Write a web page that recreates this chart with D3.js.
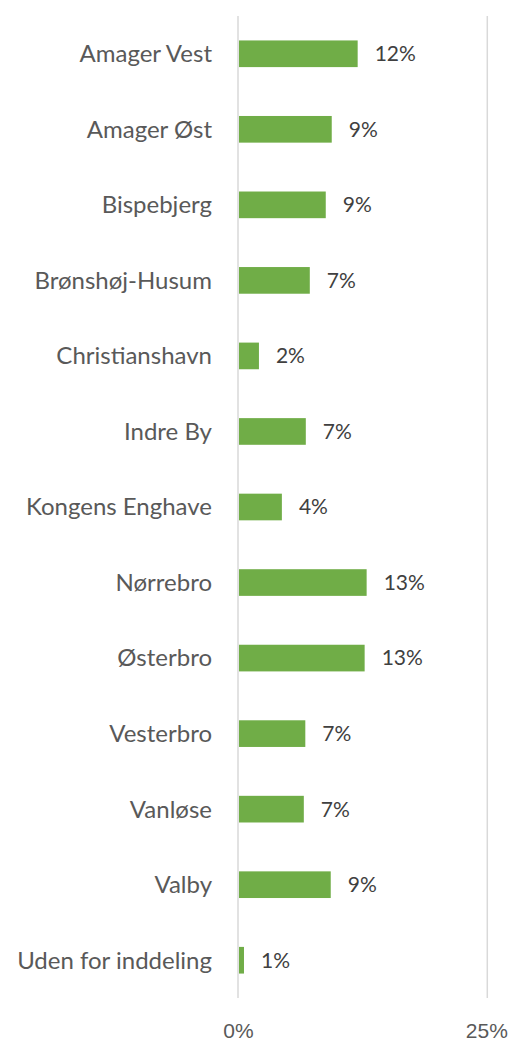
<!DOCTYPE html>
<html>
<head>
<meta charset="utf-8">
<script src="https://cdn.jsdelivr.net/npm/d3@7"></script>
<style>
  html, body { margin: 0; padding: 0; background: #fff; }
  svg { display: block; font-family: Lato, "Open Sans", sans-serif; }
  .cat { fill: #595959; font-size: 24px; }
  .val { fill: #404040; font-size: 21px; }
  .tick text { fill: #595959; font-size: 21px; }
</style>
</head>
<body>
<svg id="chart"></svg>
<script>
// bydele og andel (læst af billedet)
const districts = [
  "Amager Vest", "Amager Øst", "Bispebjerg", "Brønshøj-Husum", "Christianshavn",
  "Indre By", "Kongens Enghave", "Nørrebro", "Østerbro", "Vesterbro",
  "Vanløse", "Valby", "Uden for inddeling"
];
const shares = [
  0.120, 0.094, 0.088, 0.072, 0.021,
  0.068, 0.044, 0.129, 0.127, 0.0675,
  0.066, 0.093, 0.006
];
const xTicks = [0, 0.25];

const W = 510, H = 1041;
const svg = d3.select("#chart").attr("width", W).attr("height", H);

const x = d3.scaleLinear().domain([0, 0.25]).range([238, 487.3]);
const y = d3.scaleBand().domain(districts).range([16, 998])
  .paddingInner(0.647).paddingOuter(0.3235);

const pct = d3.format(".0%");

// gitterlinjer
svg.append("g")
  .selectAll("line")
  .data(xTicks)
  .join("line")
  .attr("x1", d => x(d)).attr("x2", d => x(d))
  .attr("y1", 16).attr("y2", 998)
  .attr("stroke", "#d9d9d9")
  .attr("stroke-width", 1.5);

// søjler
svg.append("g")
  .selectAll("rect")
  .data(districts)
  .join("rect")
  .attr("x", x(0) + 1)
  .attr("y", d => y(d))
  .attr("width", (d, i) => x(shares[i]) - x(0) - 1)
  .attr("height", y.bandwidth())
  .attr("fill", "#70ad47");

// datalabels
svg.append("g")
  .selectAll("text")
  .data(districts)
  .join("text")
  .attr("class", "val")
  .attr("x", (d, i) => x(shares[i]) + 17)
  .attr("y", d => y(d) + y.bandwidth() / 2)
  .attr("dy", "0.35em")
  .text((d, i) => pct(shares[i]));

// kategori-labels
svg.append("g")
  .selectAll("text")
  .data(districts)
  .join("text")
  .attr("class", "cat")
  .attr("x", 212)
  .attr("y", d => y(d) + y.bandwidth() / 2)
  .attr("dy", "0.35em")
  .attr("text-anchor", "end")
  .text(d => d);

// x-akse
const xAxis = svg.append("g")
  .attr("transform", "translate(0,998)")
  .call(d3.axisBottom(x).tickValues(xTicks).tickFormat(pct).tickSize(0).tickPadding(25));
xAxis.select(".domain").remove();
// sidste label må ikke gå ud over kanten
xAxis.selectAll(".tick text")
  .filter(d => d === 0.25)
  .attr("text-anchor", "end")
  .attr("dx", 20);
</script>
</body>
</html>
